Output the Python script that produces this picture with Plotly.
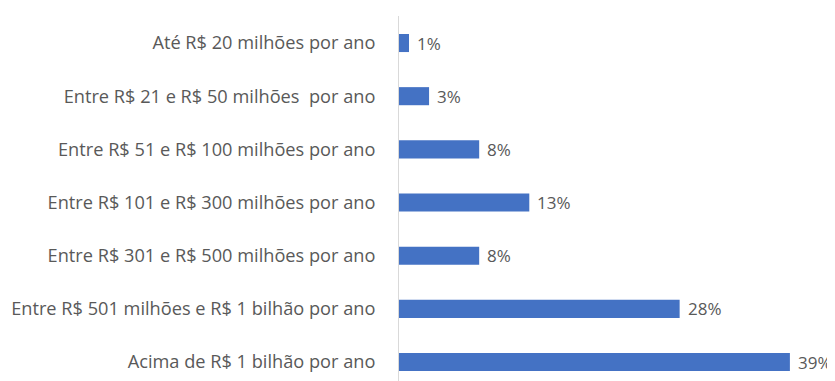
import plotly.graph_objects as go

categories = [
    "Até R$ 20 milhões por ano",
    "Entre R$ 21 e R$ 50 milhões\u00a0 por ano",
    "Entre R$ 51 e R$ 100 milhões por ano",
    "Entre R$ 101 e R$ 300 milhões por ano",
    "Entre R$ 301 e R$ 500 milhões por ano",
    "Entre R$ 501 milhões e R$ 1 bilhão por ano",
    "Acima de R$ 1 bilhão por ano",
]
values = [1, 3, 8, 13, 8, 28, 39]
labels = [f"{v}%" for v in values]

font_family = "Open Sans"
text_color = "#595959"
tick_font_size = 18.2
label_font_size = 17

fig = go.Figure()
fig.add_trace(go.Bar(
    x=values, y=categories, orientation="h",
    marker=dict(color="#4472C4", line=dict(width=0)),
    width=0.34,
    hoverinfo="skip",
))

for c, v, t in zip(categories, values, labels):
    fig.add_annotation(x=v, y=c, text=t, showarrow=False, xanchor="left",
                       xshift=6, font=dict(family=font_family, size=label_font_size, color=text_color))

fig.update_layout(
    width=827, height=373,
    margin=dict(l=391, r=0, t=8, b=0),
    paper_bgcolor="white", plot_bgcolor="white",
    showlegend=False,
    xaxis=dict(range=[0, 43.5], visible=False, fixedrange=True),
    yaxis=dict(
        categoryorder="array", categoryarray=categories,
        range=[6.357, -0.508],
        showline=True, linecolor="#D9D9D9", linewidth=1,
        showgrid=False, ticks="", zeroline=False,
        ticklabelstandoff=19,
        tickfont=dict(family=font_family, size=tick_font_size, color=text_color),
    ),
)

fig.write_html("out.html")
